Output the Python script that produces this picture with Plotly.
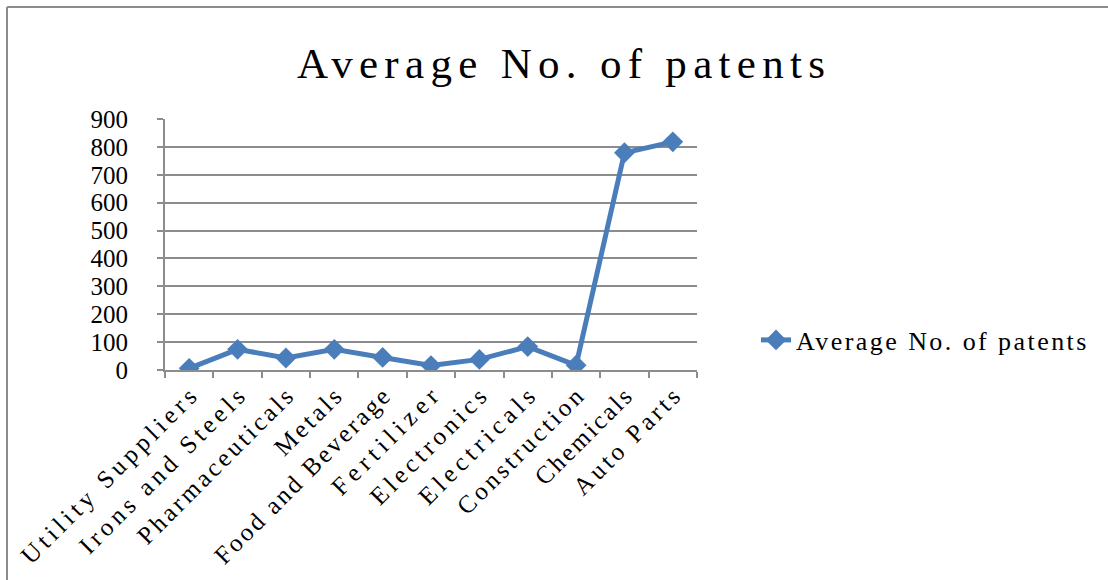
import plotly.graph_objects as go

# Average number of patents per industry
industries = [
    "Utility Suppliers", "Irons and Steels", "Pharmaceuticals", "Metals",
    "Food and Beverage", "Fertilizer", "Electronics", "Electricals",
    "Construction", "Chemicals", "Auto Parts",
]
avg_patents = [6, 74, 43, 74, 45, 16, 38, 84, 17, 779, 818]
y_ticks = [0, 100, 200, 300, 400, 500, 600, 700, 800, 900]

series_name = "Average No. of patents"
chart_title = "Average No. of patents"

LINE_BLUE = "#4A7EBB"
GRID_GRAY = "#8C8C8C"
SERIF = "Liberation Serif, Times New Roman, serif"

W, H = 1108, 580
M_L, M_R, M_T, M_B = 165, 411, 119, 210
plot_w = W - M_L - M_R
plot_h = H - M_T - M_B

fig = go.Figure()
fig.add_trace(go.Scatter(
    x=industries,
    y=avg_patents,
    name=series_name,
    mode="lines+markers",
    line=dict(color=LINE_BLUE, width=5),
    marker=dict(symbol="diamond", size=16, color=LINE_BLUE,
                line=dict(width=0)),
    showlegend=True,
))

# outer chart frame (top and left edges are visible)
fx = (7 - M_L) / plot_w
fy = (H - M_B - 7) / plot_h
frame = dict(type="line", xref="paper", yref="paper",
             line=dict(color=GRID_GRAY, width=2), layer="above")
fig.add_shape(**frame, x0=fx, x1=3.0, y0=fy, y1=fy)
fig.add_shape(**frame, x0=fx, x1=fx, y0=fy, y1=-2.0)

fig.update_layout(
    width=W, height=H,
    margin=dict(l=M_L, r=M_R, t=M_T, b=M_B, pad=0),
    paper_bgcolor="white",
    plot_bgcolor="white",
    font=dict(family=SERIF, color="#000000", size=25),
    title=dict(
        text=chart_title,
        x=561 / W, xref="container", xanchor="center",
        y=1 - 63 / H, yref="container", yanchor="middle",
        font=dict(family=SERIF, size=43, color="#000000"),
    ),
    showlegend=True,
    legend=dict(
        x=(756 - M_L) / plot_w, xanchor="left",
        y=(H - M_B - 340) / plot_h, yanchor="middle",
        bgcolor="rgba(0,0,0,0)", borderwidth=0,
        font=dict(family=SERIF, size=26, color="#000000"),
        itemwidth=30,
    ),
    xaxis=dict(
        type="category",
        categoryorder="array", categoryarray=industries,
        range=[-0.5, len(industries) - 0.5],
        showgrid=False,
        showline=True, linecolor=GRID_GRAY, linewidth=2,
        ticks="outside", ticklen=6, tickwidth=2, tickcolor=GRID_GRAY,
        tickson="boundaries",
        tickangle=-45,
        tickfont=dict(family=SERIF, size=25, color="#000000"),
        zeroline=False,
    ),
    yaxis=dict(
        range=[0, 900],
        tickvals=y_ticks,
        showgrid=True, gridcolor=GRID_GRAY, gridwidth=2,
        showline=True, linecolor=GRID_GRAY, linewidth=2,
        ticks="outside", ticklen=6, tickwidth=2, tickcolor=GRID_GRAY,
        ticklabelstandoff=24,
        tickfont=dict(family=SERIF, size=25, color="#000000"),
        zeroline=False,
    ),
)

# even, typewriter-like character pitch for the text
pitch_js = """
var gd = document.getElementById('{plot_id}');
function setPitch(sel, pitch) {
  gd.querySelectorAll(sel).forEach(function (t) {
    var n = t.textContent.length;
    t.setAttribute('textLength', (n * pitch).toFixed(1));
    t.setAttribute('lengthAdjust', 'spacing');
  });
}
function widen() {
  setPitch('.gtitle', 24);
  setPitch('.legendtext', 13.2);
  setPitch('.xtick text', 13.9);
  gd.querySelectorAll('.legend [clip-path]').forEach(function (e) { e.removeAttribute('clip-path'); });
}
widen();
gd.on('plotly_afterplot', widen);
setTimeout(widen, 50);
"""

fig.write_html("out.html", post_script=pitch_js)
